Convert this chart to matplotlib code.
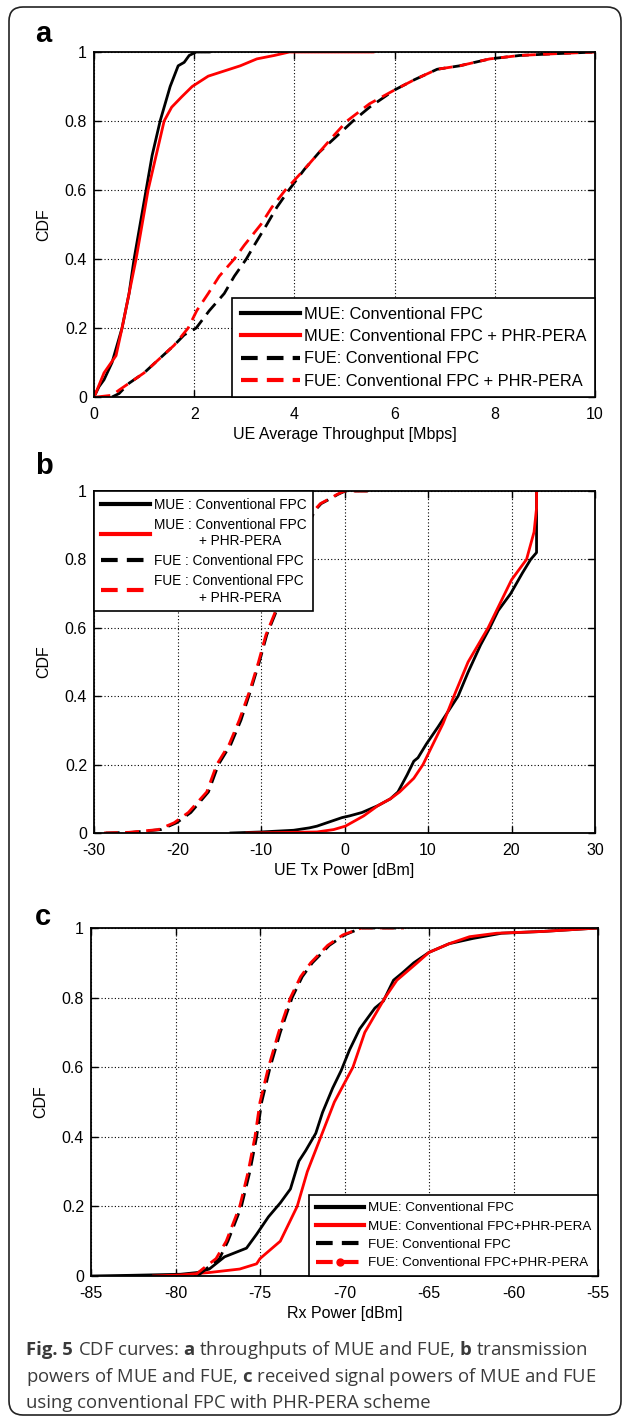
import matplotlib
matplotlib.use("Agg")
import matplotlib.pyplot as plt
from matplotlib.lines import Line2D
from matplotlib.patches import FancyBboxPatch
from matplotlib.transforms import IdentityTransform
from matplotlib.ticker import FuncFormatter

plt.rcParams["font.family"] = ["Liberation Sans", "DejaVu Sans"]
plt.rcParams["mathtext.fontset"] = "custom"
plt.rcParams["mathtext.rm"] = "Open Sans"
plt.rcParams["mathtext.bf"] = "Open Sans:bold"

# ---- panel a: UE average throughput [Mbps]
a_mue_conv_x = [0, 0.1, 0.2, 0.36, 0.56, 0.7, 0.8, 0.92, 1.04, 1.16, 1.32, 1.52, 1.68, 1.8, 1.9, 2.04, 2.3]
a_mue_conv_y = [0, 0.03, 0.05, 0.1, 0.2, 0.3, 0.4, 0.5, 0.6, 0.7, 0.8, 0.9, 0.96, 0.97, 0.99, 1.0, 1.0]
a_mue_phr_x = [0, 0.04, 0.2, 0.44, 0.56, 0.7, 0.84, 0.96, 1.08, 1.24, 1.4, 1.55, 1.75, 1.96, 2.28, 2.6, 2.92, 3.25, 3.6, 3.9, 5.57]
a_mue_phr_y = [0, 0.013, 0.07, 0.12, 0.2, 0.3, 0.4, 0.5, 0.6, 0.7, 0.8, 0.84, 0.87, 0.9, 0.93, 0.945, 0.96, 0.98, 0.99, 1.0, 1.0]
a_fue_conv_x = [0.36, 0.5, 0.7, 1.0, 1.3, 1.6, 1.8, 2.04, 2.3, 2.6, 2.8, 3.04, 3.2, 3.45, 3.65, 3.89, 4.2, 4.5, 4.8, 5.17, 5.5, 6.0, 6.4, 6.85, 7.3, 7.9, 8.5, 9.2, 10]
a_fue_conv_y = [0, 0.01, 0.04, 0.07, 0.11, 0.15, 0.18, 0.2, 0.25, 0.3, 0.35, 0.4, 0.44, 0.5, 0.55, 0.6, 0.66, 0.71, 0.75, 0.8, 0.84, 0.89, 0.92, 0.95, 0.96, 0.98, 0.99, 0.995, 1.0]
a_fue_phr_x = [0.05, 0.36, 0.5, 0.7, 1.0, 1.3, 1.6, 1.88, 2.05, 2.28, 2.5, 2.8, 3.0, 3.33, 3.55, 3.82, 4.2, 4.5, 4.8, 5.05, 5.5, 6.0, 6.4, 6.85, 7.3, 7.9, 8.5, 9.2, 10]
a_fue_phr_y = [0, 0.005, 0.02, 0.04, 0.07, 0.11, 0.15, 0.2, 0.25, 0.3, 0.35, 0.4, 0.44, 0.5, 0.55, 0.6, 0.66, 0.71, 0.76, 0.8, 0.85, 0.89, 0.92, 0.95, 0.96, 0.98, 0.99, 0.995, 1.0]

# ---- panel b: UE Tx power [dBm]
b_mue_conv_x = [-13.6, -10, -6.1, -4.2, -3.3, -0.3, 0.6, 2.1, 4, 5.5, 6.4, 7.5, 8.3, 8.8, 9.8, 11.2, 13.6, 14.8, 16.3, 17.4, 18.4, 19.9, 21.3, 22.3, 23, 23]
b_mue_conv_y = [0, 0.003, 0.008, 0.015, 0.02, 0.045, 0.05, 0.06, 0.08, 0.1, 0.12, 0.17, 0.21, 0.22, 0.26, 0.31, 0.4, 0.47, 0.55, 0.6, 0.65, 0.7, 0.76, 0.8, 0.82, 1.0]
b_mue_phr_x = [-11.7, -3.3, -1.3, 0.1, 2.3, 4, 5.5, 6.6, 8.3, 9.4, 10.4, 11.8, 13.1, 14.8, 17.2, 18.4, 20.0, 21.8, 22.7, 23, 23]
b_mue_phr_y = [0, 0.003, 0.01, 0.02, 0.05, 0.08, 0.1, 0.12, 0.16, 0.2, 0.25, 0.32, 0.4, 0.5, 0.6, 0.66, 0.74, 0.8, 0.88, 0.95, 1.0]
b_fue_conv_x = [-28.6, -25.4, -22, -20.1, -18.4, -16.3, -15.1, -13.6, -12.4, -11.2, -10.2, -9.3, -8.3, -7.2, -6.0, -5.0, -4.0, -3.5, -2.8, -1.5, -0.8, 0.1, 2.8]
b_fue_conv_y = [0, 0.002, 0.01, 0.03, 0.06, 0.12, 0.2, 0.26, 0.33, 0.42, 0.5, 0.58, 0.64, 0.72, 0.8, 0.87, 0.92, 0.944, 0.963, 0.98, 0.99, 1.0, 1.0]
b_fue_phr_x = [-28.8, -25.8, -22.3, -20.4, -18.7, -16.5, -15.3, -13.8, -12.6, -11.3, -10.3, -9.4, -8.4, -7.3, -6.1, -5.1, -4.1, -3.6, -2.9, -1.6, -0.9, 0.0, 2.8]
b_fue_phr_y = [0, 0.002, 0.01, 0.03, 0.06, 0.12, 0.2, 0.26, 0.33, 0.42, 0.5, 0.58, 0.64, 0.72, 0.8, 0.87, 0.92, 0.944, 0.963, 0.98, 0.99, 1.0, 1.0]

# ---- panel c: Rx power [dBm]
c_mue_conv_x = [-85, -82.6, -79.7, -78.7, -78.0, -77.1, -75.8, -75.2, -74.5, -73.8, -73.2, -72.7, -72.3, -71.7, -71.3, -70.7, -70.2, -69.7, -69.1, -68.2, -67.7, -67.1, -66.6, -65.9, -65.0, -63.8, -62.4, -60.7, -58.3, -55]
c_mue_conv_y = [0, 0.002, 0.005, 0.01, 0.02, 0.055, 0.08, 0.12, 0.17, 0.21, 0.25, 0.33, 0.36, 0.41, 0.47, 0.54, 0.59, 0.65, 0.71, 0.77, 0.79, 0.85, 0.87, 0.9, 0.93, 0.955, 0.97, 0.985, 0.99, 1.0]
c_mue_phr_x = [-81.3, -79.7, -78, -76.2, -75.2, -75.0, -73.8, -73.3, -72.8, -72.2, -71.4, -70.6, -69.5, -68.8, -67.6, -66.9, -65.7, -65, -63.8, -62.6, -61, -58.3, -55]
c_mue_phr_y = [0, 0.003, 0.01, 0.02, 0.035, 0.05, 0.1, 0.15, 0.2, 0.3, 0.4, 0.5, 0.6, 0.7, 0.8, 0.85, 0.9, 0.93, 0.955, 0.975, 0.985, 0.99, 1.0]
c_fue_conv_x = [-78.7, -78.2, -77.4, -76.9, -76.1, -75.6, -75.2, -74.9, -74.4, -73.8, -73.1, -72.5, -71.9, -70.9, -70.0, -69.0, -66.5]
c_fue_conv_y = [0, 0.02, 0.05, 0.1, 0.2, 0.3, 0.4, 0.5, 0.6, 0.7, 0.8, 0.86, 0.9, 0.95, 0.98, 1.0, 1.0]
c_fue_phr_x = [-78.9, -78.4, -77.6, -77.0, -76.2, -75.7, -75.3, -75.0, -74.5, -73.9, -73.2, -72.6, -72.0, -71.0, -70.1, -69.0, -66.5]
c_fue_phr_y = [0, 0.02, 0.05, 0.1, 0.2, 0.3, 0.4, 0.5, 0.6, 0.7, 0.8, 0.86, 0.9, 0.95, 0.98, 1.0, 1.0]

a_labels = ["MUE: Conventional FPC", "MUE: Conventional FPC + PHR-PERA",
            "FUE: Conventional FPC", "FUE: Conventional FPC + PHR-PERA"]
b_labels = ["MUE : Conventional FPC", "MUE : Conventional FPC\n            + PHR-PERA",
            "FUE : Conventional FPC", "FUE : Conventional FPC\n            + PHR-PERA"]
c_labels = ["MUE: Conventional FPC", "MUE: Conventional FPC+PHR-PERA",
            "FUE: Conventional FPC", "FUE: Conventional FPC+PHR-PERA"]

W, H = 629, 1418
fig = plt.figure(figsize=(W / 100, H / 100), dpi=100)

LW = 2.0
DASH = (5.0, 2.6)


def add_axes(left, top, right, bottom):
    return fig.add_axes([left / W, 1 - bottom / H, (right - left) / W, (bottom - top) / H])


def style(ax, xlim, xticks, xlabel):
    ax.set_xlim(*xlim)
    ax.set_ylim(0, 1)
    ax.set_xticks(xticks)
    ax.set_yticks([0, 0.2, 0.4, 0.6, 0.8, 1.0])
    ax.xaxis.set_major_formatter(FuncFormatter(lambda v, p: f"{v:g}"))
    ax.yaxis.set_major_formatter(FuncFormatter(lambda v, p: f"{v:g}"))
    ax.grid(True, linestyle=(0, (1, 2)), color="black", linewidth=0.8)
    ax.tick_params(direction="in", top=True, right=True, length=5, width=1,
                   labelsize=11.5)
    ax.tick_params(axis="x", pad=7)
    ax.tick_params(axis="y", pad=5)
    for s in ax.spines.values():
        s.set_linewidth(1.3)
    ax.set_xlabel(xlabel, fontsize=11.5, labelpad=4)
    ax.set_ylabel("CDF", fontsize=11.5, labelpad=10)


def draw(ax, data):
    (x1, y1), (x2, y2), (x3, y3), (x4, y4) = data
    ax.plot(x1, y1, color="black", lw=LW)
    ax.plot(x2, y2, color="red", lw=LW)
    ax.plot(x3, y3, color="black", lw=LW, ls="--", dashes=DASH)
    ax.plot(x4, y4, color="red", lw=LW, ls="--", dashes=DASH)


def handles(dot=False):
    h = [Line2D([], [], color="black", lw=3),
         Line2D([], [], color="red", lw=3),
         Line2D([], [], color="black", lw=3, ls="--", dashes=(4, 2.2)),
         Line2D([], [], color="red", lw=3, ls="--", dashes=(4, 2.2),
                marker="o" if dot else None, markersize=5)]
    return h


def legend(ax, labels, loc, size, dot=False):
    leg = ax.legend(handles(dot), labels, loc=loc, fontsize=size, fancybox=False,
                    framealpha=1, edgecolor="black", borderaxespad=0,
                    handlelength=3.6, handletextpad=0.3, borderpad=0.5,
                    labelspacing=0.45, numpoints=1)
    leg.get_frame().set_linewidth(1.2)
    leg.set_zorder(5)


# panel a
ax_a = add_axes(94, 52, 595, 397)
draw(ax_a, [(a_mue_conv_x, a_mue_conv_y), (a_mue_phr_x, a_mue_phr_y),
            (a_fue_conv_x, a_fue_conv_y), (a_fue_phr_x, a_fue_phr_y)])
style(ax_a, (0, 10), [0, 2, 4, 6, 8, 10], "UE Average Throughput [Mbps]")
legend(ax_a, a_labels, "lower right", 11.8)

# panel b
ax_b = add_axes(94, 491, 595, 833)
draw(ax_b, [(b_mue_conv_x, b_mue_conv_y), (b_mue_phr_x, b_mue_phr_y),
            (b_fue_conv_x, b_fue_conv_y), (b_fue_phr_x, b_fue_phr_y)])
style(ax_b, (-30, 30), [-30, -20, -10, 0, 10, 20, 30], "UE Tx Power [dBm]")
legend(ax_b, b_labels, "upper left", 9.8)

# panel c
ax_c = add_axes(91, 928, 598, 1276)
draw(ax_c, [(c_mue_conv_x, c_mue_conv_y), (c_mue_phr_x, c_mue_phr_y),
            (c_fue_conv_x, c_fue_conv_y), (c_fue_phr_x, c_fue_phr_y)])
style(ax_c, (-85, -55), [-85, -80, -75, -70, -65, -60, -55], "Rx Power [dBm]")
legend(ax_c, c_labels, "lower right", 9.6, dot=True)

# panel letters
for letter, ypix in [("a", 42), ("b", 474), ("c", 925)]:
    fig.text(35 / W, 1 - ypix / H, letter, fontsize=21, fontweight="bold",
             ha="left", va="baseline")

# caption
cap_font = dict(fontsize=13.3, family=["Open Sans", "DejaVu Sans"],
                color="#3a3a3a", ha="left", va="baseline")
cap_lines = [
    r"CDF curves: $\mathbf{a}$ throughputs of MUE and FUE, $\mathbf{b}$ transmission",
    r"powers of MUE and FUE, $\mathbf{c}$ received signal powers of MUE and FUE",
    r"using conventional FPC with PHR-PERA scheme",
]
renderer = fig.canvas.get_renderer()
head = fig.text(26 / W, 1 - 1355 / H, "Fig. 5", fontweight="bold", **cap_font)
head_w = head.get_window_extent(renderer).width
probe1 = fig.text(0, 0, "aa", **cap_font)
probe2 = fig.text(0, 0, "a a", **cap_font)
space_w = (probe2.get_window_extent(renderer).width
           - probe1.get_window_extent(renderer).width)
probe1.remove()
probe2.remove()
for i, line in enumerate(cap_lines):
    x = 26 + (head_w + space_w if i == 0 else 0)
    fig.text(x / W, 1 - (1355 + 26.5 * i) / H, line, **cap_font)

# outer rounded frame
frame = FancyBboxPatch((9, 3), 612, 1408, boxstyle="round,pad=0,rounding_size=14",
                       transform=IdentityTransform(), facecolor="none",
                       edgecolor="#222222", linewidth=1.2)
fig.patches.append(frame)

fig.savefig("out.png", dpi=100)
